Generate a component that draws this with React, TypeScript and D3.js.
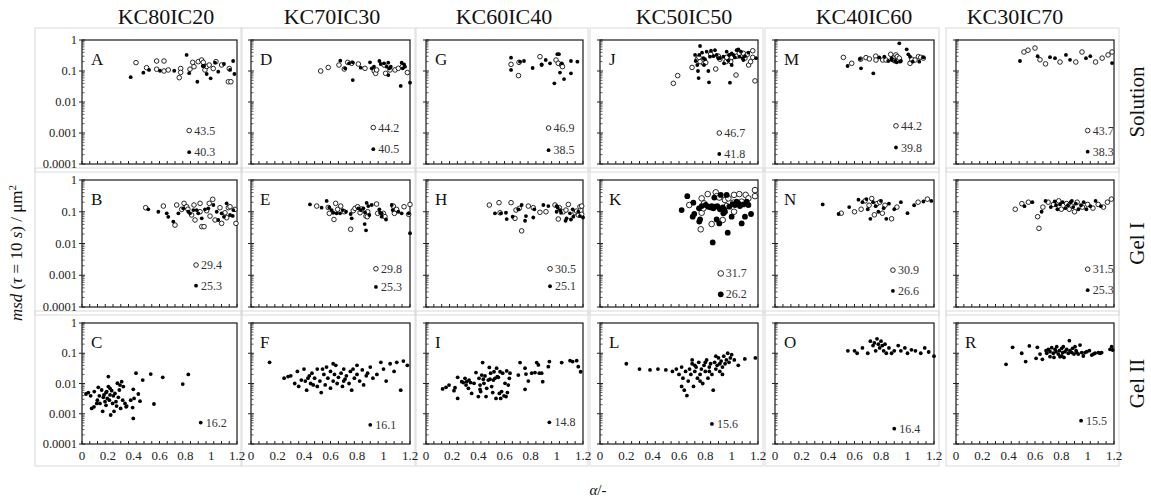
import React from "react";
import * as d3 from "d3";

type P = [number, number];
type Note = { x: number; y: number; label: string; open: boolean };

const columnTitles = ["KC80IC20", "KC70IC30", "KC60IC40", "KC50IC50", "KC40IC60", "KC30IC70"];
const rowLabels = ["Solution", "Gel I", "Gel II"];
const panelLetters = [
  ["A", "B", "C"],
  ["D", "E", "F"],
  ["G", "H", "I"],
  ["J", "K", "L"],
  ["M", "N", "O"],
  ["", "", "R"],
];
const yTickValues = [1, 0.1, 0.01, 0.001, 0.0001];
const yTickLabels = ["1", "0.1", "0.01", "0.001", "0.0001"];
const xTickValues = [0, 0.2, 0.4, 0.6, 0.8, 1, 1.2];
const xTickLabels = ["0", "0.2", "0.4", "0.6", "0.8", "1", "1.2"];

// ---- Solution row ----
const A_open: P[] = [[0.418,0.186],[0.5,0.128],[0.578,0.21],[0.578,0.114],[0.635,0.21],[0.635,0.1],[0.668,0.108],[0.753,0.061],[0.764,0.12],[0.764,0.09],[0.836,0.114],[0.857,0.19],[0.867,0.138],[0.9,0.2],[0.926,0.226],[0.939,0.19],[0.952,0.108],[0.965,0.14],[0.985,0.156],[1.016,0.12],[1.037,0.2],[1.081,0.156],[1.14,0.12],[1.133,0.045],[1.153,0.045]];
const A_filled: P[] = [[0.377,0.063],[0.475,0.088],[0.519,0.108],[0.604,0.102],[0.714,0.102],[0.81,0.33],[0.83,0.085],[0.893,0.045],[0.935,0.145],[0.945,0.145],[0.965,0.08],[0.996,0.058],[1.03,0.186],[1.055,0.095],[1.099,0.168],[1.146,0.108],[1.17,0.21],[1.18,0.08]];
const A_notes: Note[] = [{x:0.83,y:0.0012,label:"43.5",open:true},{x:0.83,y:0.00024,label:"40.3",open:false}];

const D_open: P[] = [[0.526,0.1],[0.583,0.13],[0.664,0.156],[0.704,0.116],[0.73,0.19],[0.76,0.177],[0.81,0.168],[0.86,0.122],[0.93,0.1],[0.941,0.084],[0.948,0.108],[1.004,0.156],[1.016,0.084],[1.049,0.108],[1.087,0.108],[1.112,0.122],[1.18,0.089],[1.142,0.138]];
const D_filled: P[] = [[0.674,0.215],[0.711,0.122],[0.74,0.177],[0.768,0.19],[0.768,0.051],[0.828,0.128],[0.898,0.19],[0.911,0.122],[0.928,0.138],[0.969,0.21],[0.979,0.168],[1.004,0.177],[1.024,0.138],[1.036,0.186],[1.044,0.122],[1.055,0.138],[1.137,0.186],[1.155,0.164],[1.162,0.138],[1.13,0.033],[1.2,0.042],[1.036,0.074],[1.145,0.122]];
const D_notes: Note[] = [{x:0.923,y:0.0015,label:"44.2",open:true},{x:0.923,y:0.0003,label:"40.5",open:false}];

const G_open: P[] = [[0.65,0.164],[0.707,0.071],[0.711,0.19],[0.871,0.29],[0.994,0.226],[1.011,0.177],[1.037,0.156],[1.043,0.138]];
const G_filled: P[] = [[0.65,0.27],[0.65,0.108],[0.718,0.2],[0.749,0.21],[0.815,0.125],[0.884,0.164],[0.915,0.226],[0.948,0.177],[0.981,0.04],[1.004,0.35],[1.016,0.35],[1.024,0.089],[1.037,0.177],[1.055,0.055],[1.108,0.21],[1.108,0.084],[1.157,0.2],[0.884,0.156]];
const G_notes: Note[] = [{x:0.937,y:0.00145,label:"46.9",open:true},{x:0.937,y:0.00028,label:"38.5",open:false}];

const J_open: P[] = [[0.557,0.04],[0.59,0.071],[0.699,0.13],[0.739,0.24],[0.752,0.275],[0.785,0.177],[0.803,0.186],[0.841,0.35],[0.879,0.116],[0.899,0.3],[0.911,0.24],[0.957,0.2],[0.975,0.24],[0.993,0.2],[1.0,0.275],[1.033,0.074],[1.038,0.3],[1.058,0.37],[1.089,0.37],[1.119,0.345],[1.129,0.156],[1.144,0.2],[1.16,0.45],[1.16,0.275],[1.177,0.048],[1.101,0.26],[0.962,0.275],[0.76,0.2]];
const J_filled: P[] = [[0.722,0.33],[0.727,0.21],[0.739,0.156],[0.744,0.1],[0.749,0.059],[0.754,0.33],[0.76,0.64],[0.775,0.39],[0.785,0.26],[0.79,0.156],[0.797,0.24],[0.81,0.42],[0.823,0.1],[0.828,0.043],[0.835,0.29],[0.843,0.45],[0.861,0.3],[0.873,0.47],[0.886,0.33],[0.899,0.26],[0.911,0.26],[0.937,0.29],[0.962,0.42],[0.975,0.215],[0.98,0.33],[0.987,0.042],[1.0,0.37],[1.013,0.33],[1.025,0.275],[1.038,0.47],[1.051,0.5],[1.058,0.29],[1.071,0.42],[1.083,0.26],[1.089,0.226],[1.101,0.3],[1.127,0.39],[1.185,0.26],[0.942,0.177],[1.0,0.156]];
const J_notes: Note[] = [{x:0.906,y:0.001,label:"46.7",open:true},{x:0.906,y:0.00021,label:"41.8",open:false}];

const M_open: P[] = [[0.516,0.275],[0.579,0.177],[0.646,0.24],[0.687,0.27],[0.712,0.245],[0.76,0.3],[0.762,0.226],[0.813,0.226],[0.838,0.226],[0.873,0.345],[0.893,0.26],[0.901,0.215],[0.913,0.33],[0.923,0.29],[1.019,0.177],[1.032,0.24],[1.057,0.226],[1.082,0.29],[1.1,0.275],[1.12,0.26],[0.938,0.26]];
const M_filled: P[] = [[0.548,0.145],[0.649,0.122],[0.742,0.084],[0.642,0.245],[0.787,0.275],[0.825,0.29],[0.855,0.21],[0.88,0.226],[0.906,0.21],[0.918,0.19],[0.938,0.78],[0.943,0.2],[0.951,0.21],[0.994,0.5],[1.006,0.345],[1.019,0.29],[1.039,0.2],[1.089,0.2],[1.12,0.275],[0.88,0.26]];
const M_notes: Note[] = [{x:0.913,y:0.0017,label:"44.2",open:true},{x:0.913,y:0.00034,label:"39.8",open:false}];

const P_open: P[] = [[0.516,0.41],[0.547,0.47],[0.6,0.55],[0.638,0.23],[0.68,0.17],[0.79,0.195],[0.91,0.195],[0.957,0.41],[1.06,0.195],[1.11,0.26],[1.155,0.33],[1.185,0.41]];
const P_filled: P[] = [[0.486,0.21],[0.62,0.3],[0.714,0.28],[0.752,0.26],[0.835,0.33],[0.866,0.23],[0.987,0.26],[1.02,0.3],[1.185,0.18]];
const P_notes: Note[] = [{x:1.0,y:0.0012,label:"43.7",open:true},{x:1.0,y:0.00025,label:"38.3",open:false}];

// ---- Gel I row ----
const B_open: P[] = [[0.493,0.134],[0.63,0.151],[0.72,0.038],[0.733,0.163],[0.772,0.119],[0.79,0.184],[0.81,0.144],[0.849,0.079],[0.867,0.163],[0.875,0.055],[0.914,0.184],[0.927,0.034],[0.945,0.034],[0.965,0.108],[0.985,0.184],[0.991,0.073],[1.012,0.246],[1.03,0.055],[1.068,0.134],[1.081,0.043],[1.107,0.093],[1.133,0.134],[1.146,0.144],[1.184,0.119],[1.192,0.043],[1.12,0.065],[0.914,0.1],[0.82,0.12]];
const B_filled: P[] = [[0.513,0.119],[0.591,0.1],[0.656,0.089],[0.668,0.069],[0.707,0.049],[0.746,0.089],[0.823,0.1],[0.836,0.089],[0.888,0.113],[0.9,0.089],[0.952,0.119],[0.978,0.128],[1.017,0.163],[1.043,0.1],[1.055,0.055],[1.081,0.089],[1.099,0.069],[1.12,0.184],[1.146,0.079],[1.167,0.074],[1.171,0.113],[0.927,0.062],[0.862,0.113],[0.784,0.128]];
const B_notes: Note[] = [{x:0.883,y:0.0021,label:"29.4",open:true},{x:0.883,y:0.00047,label:"25.3",open:false}];

const E_open: P[] = [[0.496,0.151],[0.583,0.137],[0.591,0.089],[0.626,0.057],[0.639,0.184],[0.654,0.119],[0.677,0.151],[0.704,0.1],[0.752,0.028],[0.772,0.108],[0.785,0.128],[0.805,0.144],[0.823,0.093],[0.868,0.073],[0.881,0.1],[0.948,0.175],[0.956,0.089],[0.999,0.089],[1.011,0.07],[1.074,0.151],[1.082,0.089],[1.099,0.119],[1.155,0.144],[1.2,0.17],[1.19,0.083],[0.835,0.122],[0.878,0.07]];
const E_filled: P[] = [[0.445,0.17],[0.533,0.134],[0.571,0.22],[0.591,0.137],[0.609,0.113],[0.621,0.093],[0.646,0.089],[0.672,0.089],[0.692,0.113],[0.717,0.1],[0.752,0.085],[0.76,0.062],[0.81,0.128],[0.828,0.113],[0.848,0.128],[0.858,0.041],[0.868,0.026],[0.873,0.19],[0.885,0.151],[0.893,0.079],[0.911,0.163],[0.969,0.119],[0.974,0.093],[0.986,0.07],[1.019,0.057],[1.062,0.163],[1.069,0.113],[1.112,0.1],[1.137,0.089],[1.2,0.021],[1.19,0.089],[0.86,0.096],[0.986,0.089]];
const E_notes: Note[] = [{x:0.943,y:0.0016,label:"29.8",open:true},{x:0.943,y:0.00043,label:"25.3",open:false}];

const H_open: P[] = [[0.484,0.163],[0.558,0.193],[0.566,0.093],[0.65,0.193],[0.68,0.062],[0.688,0.113],[0.713,0.128],[0.731,0.025],[0.782,0.151],[0.82,0.134],[0.871,0.096],[0.917,0.1],[0.986,0.163],[1.011,0.059],[1.019,0.134],[1.049,0.1],[1.07,0.113],[1.088,0.17],[1.139,0.093],[1.151,0.105],[1.164,0.079],[1.177,0.144],[1.19,0.151],[1.19,0.083]];
const H_filled: P[] = [[0.527,0.089],[0.573,0.089],[0.611,0.093],[0.617,0.059],[0.662,0.07],[0.706,0.119],[0.731,0.163],[0.757,0.052],[0.764,0.073],[0.82,0.066],[0.828,0.119],[0.897,0.163],[0.935,0.151],[0.998,0.151],[1.006,0.137],[1.024,0.113],[1.032,0.093],[1.067,0.052],[1.075,0.062],[1.1,0.089],[1.108,0.057],[1.121,0.119],[1.126,0.07],[1.164,0.1],[1.2,0.066],[1.177,0.073],[0.998,0.1]];
const H_notes: Note[] = [{x:0.948,y:0.0016,label:"30.5",open:true},{x:0.948,y:0.00045,label:"25.1",open:false}];

const K_open: P[] = [[0.678,0.163],[0.772,0.264],[0.818,0.36],[0.879,0.41],[0.886,0.31],[0.906,0.28],[0.772,0.093],[0.79,0.184],[0.765,0.028],[0.848,0.041],[0.932,0.055],[0.949,0.234],[0.975,0.264],[1.013,0.193],[1.018,0.34],[1.058,0.36],[1.076,0.208],[1.106,0.34],[1.127,0.264],[1.177,0.48],[1.177,0.31],[1.018,0.1],[0.962,0.151],[0.785,0.128]];
const K_filled: P[] = [[0.62,0.113],[0.663,0.31],[0.709,0.193],[0.704,0.07],[0.716,0.085],[0.752,0.128],[0.754,0.049],[0.76,0.057],[0.772,0.151],[0.803,0.163],[0.823,0.144],[0.841,0.137],[0.856,0.0108],[0.861,0.128],[0.868,0.28],[0.873,0.144],[0.886,0.057],[0.891,0.151],[0.906,0.043],[0.917,0.34],[0.932,0.137],[0.937,0.089],[0.949,0.1],[0.962,0.34],[0.97,0.022],[0.982,0.144],[1.0,0.07],[1.008,0.175],[1.025,0.163],[1.038,0.208],[1.051,0.184],[1.063,0.151],[1.076,0.043],[1.089,0.17],[1.101,0.07],[1.114,0.208],[1.127,0.163],[1.147,0.085],[0.911,0.119],[0.942,0.119],[0.848,0.151]];
const K_notes: Note[] = [{x:0.917,y:0.00114,label:"31.7",open:true},{x:0.917,y:0.00025,label:"26.2",open:false}];

const N_open: P[] = [[0.5,0.09],[0.6,0.1],[0.65,0.12],[0.68,0.22],[0.71,0.16],[0.73,0.26],[0.75,0.08],[0.77,0.18],[0.79,0.2],[0.81,0.09],[0.83,0.16],[0.88,0.06],[0.92,0.14],[1.08,0.2],[1.15,0.25]];
const N_filled: P[] = [[0.36,0.17],[0.48,0.085],[0.56,0.14],[0.63,0.24],[0.66,0.2],[0.7,0.12],[0.72,0.06],[0.74,0.2],[0.76,0.15],[0.78,0.1],[0.8,0.22],[0.82,0.13],[0.84,0.06],[0.86,0.18],[0.9,0.12],[0.95,0.2],[1.0,0.09],[1.05,0.16],[1.12,0.21],[1.18,0.22],[0.69,0.25]];
const N_notes: Note[] = [{x:0.89,y:0.00145,label:"30.9",open:true},{x:0.89,y:0.00032,label:"26.6",open:false}];

const Q_open: P[] = [[0.45,0.12],[0.5,0.18],[0.55,0.2],[0.62,0.07],[0.63,0.03],[0.66,0.14],[0.7,0.2],[0.74,0.17],[0.78,0.22],[0.8,0.12],[0.84,0.18],[0.88,0.15],[0.92,0.2],[0.96,0.14],[1.0,0.17],[1.04,0.13],[1.08,0.17],[1.12,0.14],[1.15,0.2],[1.18,0.25],[0.86,0.12],[0.9,0.1]];
const Q_filled: P[] = [[0.52,0.15],[0.58,0.2],[0.65,0.1],[0.68,0.22],[0.72,0.14],[0.75,0.21],[0.77,0.12],[0.79,0.17],[0.81,0.2],[0.83,0.13],[0.85,0.16],[0.87,0.2],[0.89,0.14],[0.91,0.18],[0.93,0.12],[0.95,0.16],[0.97,0.2],[0.99,0.12],[1.02,0.15],[1.06,0.22],[1.1,0.15],[0.88,0.22],[0.76,0.16]];
const Q_notes: Note[] = [{x:1.0,y:0.00155,label:"31.5",open:true},{x:1.0,y:0.00034,label:"25.3",open:false}];

// ---- Gel II row ----
const C_filled: P[] = [[0.031,0.0045],[0.049,0.005],[0.067,0.0039],[0.095,0.0054],[0.075,0.0015],[0.093,0.0017],[0.119,0.0028],[0.126,0.0075],[0.134,0.0039],[0.139,0.0022],[0.152,0.0061],[0.16,0.0012],[0.17,0.0042],[0.178,0.0025],[0.186,0.0019],[0.191,0.0054],[0.196,0.0032],[0.204,0.017],[0.204,0.0079],[0.212,0.0028],[0.217,0.0042],[0.222,0.00091],[0.23,0.0058],[0.237,0.0022],[0.243,0.0039],[0.248,0.0012],[0.255,0.0047],[0.263,0.0025],[0.268,0.0018],[0.274,0.0102],[0.281,0.0035],[0.289,0.0061],[0.294,0.0089],[0.299,0.0015],[0.307,0.0115],[0.315,0.0028],[0.32,0.0079],[0.333,0.0022],[0.341,0.0017],[0.346,0.0018],[0.377,0.0028],[0.392,0.0016],[0.397,0.0064],[0.397,0.0007],[0.403,0.0032],[0.418,0.022],[0.436,0.0045],[0.449,0.0026],[0.47,0.013],[0.532,0.0205],[0.557,0.0021],[0.625,0.016],[0.78,0.0096],[0.823,0.02],[0.165,0.0035],[0.186,0.005],[0.217,0.0069],[0.114,0.0022]];
const C_notes: Note[] = [{x:0.919,y:0.00051,label:"16.2",open:false}];

const F_filled: P[] = [[0.14,0.05],[0.25,0.015],[0.28,0.017],[0.3,0.018],[0.33,0.01],[0.35,0.025],[0.36,0.008],[0.38,0.013],[0.4,0.03],[0.41,0.012],[0.42,0.006],[0.44,0.018],[0.45,0.01],[0.46,0.022],[0.48,0.015],[0.5,0.008],[0.5,0.03],[0.52,0.012],[0.53,0.005],[0.55,0.02],[0.56,0.009],[0.57,0.035],[0.58,0.015],[0.6,0.025],[0.6,0.007],[0.62,0.012],[0.63,0.02],[0.64,0.04],[0.65,0.01],[0.66,0.016],[0.68,0.022],[0.69,0.008],[0.7,0.03],[0.71,0.014],[0.72,0.018],[0.74,0.01],[0.75,0.025],[0.76,0.006],[0.78,0.015],[0.8,0.02],[0.8,0.04],[0.82,0.012],[0.84,0.028],[0.85,0.009],[0.87,0.018],[0.9,0.035],[0.92,0.015],[0.95,0.02],[0.98,0.05],[1.0,0.03],[1.02,0.012],[1.05,0.045],[1.08,0.025],[1.1,0.05],[1.13,0.006],[1.15,0.055],[1.18,0.04],[0.54,0.03],[0.62,0.045],[0.7,0.012],[0.47,0.009],[0.43,0.015],[0.77,0.03],[0.88,0.022]];
const F_notes: Note[] = [{x:0.9,y:0.00043,label:"16.1",open:false}];

const I_filled: P[] = [[0.127,0.0066],[0.153,0.0075],[0.176,0.0089],[0.214,0.0058],[0.222,0.0073],[0.242,0.0032],[0.242,0.016],[0.273,0.0115],[0.285,0.0107],[0.298,0.0148],[0.306,0.0089],[0.311,0.0115],[0.324,0.0069],[0.329,0.013],[0.341,0.0107],[0.349,0.0047],[0.367,0.0101],[0.382,0.023],[0.4,0.0037],[0.405,0.0148],[0.413,0.0089],[0.413,0.0064],[0.418,0.0054],[0.426,0.019],[0.433,0.049],[0.438,0.0138],[0.443,0.0101],[0.451,0.0178],[0.459,0.0037],[0.464,0.0069],[0.476,0.013],[0.484,0.034],[0.489,0.0138],[0.494,0.022],[0.502,0.0079],[0.51,0.005],[0.515,0.013],[0.52,0.0245],[0.527,0.0148],[0.535,0.0032],[0.54,0.032],[0.545,0.017],[0.553,0.016],[0.561,0.0047],[0.566,0.0245],[0.571,0.0032],[0.578,0.0054],[0.586,0.022],[0.596,0.0039],[0.604,0.0101],[0.612,0.0037],[0.617,0.026],[0.622,0.005],[0.629,0.0089],[0.637,0.0148],[0.642,0.022],[0.706,0.019],[0.719,0.049],[0.757,0.032],[0.764,0.0205],[0.757,0.0064],[0.782,0.012],[0.808,0.022],[0.833,0.023],[0.846,0.049],[0.859,0.041],[0.866,0.022],[0.884,0.022],[0.892,0.0115],[0.935,0.036],[0.943,0.053],[1.037,0.049],[1.101,0.057],[1.121,0.053],[1.152,0.057],[1.164,0.036],[1.182,0.0245]];
const I_notes: Note[] = [{x:0.943,y:0.00052,label:"14.8",open:false}];

const L_filled: P[] = [[0.2,0.045],[0.3,0.03],[0.38,0.028],[0.44,0.03],[0.5,0.028],[0.55,0.025],[0.58,0.03],[0.6,0.02],[0.62,0.035],[0.63,0.015],[0.64,0.006],[0.65,0.025],[0.66,0.004],[0.67,0.012],[0.68,0.03],[0.69,0.02],[0.7,0.045],[0.71,0.008],[0.72,0.025],[0.73,0.035],[0.74,0.015],[0.75,0.05],[0.76,0.02],[0.77,0.03],[0.78,0.01],[0.79,0.04],[0.8,0.025],[0.81,0.06],[0.82,0.015],[0.83,0.035],[0.84,0.045],[0.85,0.02],[0.86,0.006],[0.87,0.05],[0.88,0.03],[0.89,0.04],[0.9,0.07],[0.91,0.025],[0.92,0.055],[0.93,0.035],[0.94,0.08],[0.95,0.045],[0.96,0.06],[0.97,0.1],[0.98,0.05],[0.99,0.07],[1.0,0.09],[1.02,0.06],[1.05,0.04],[1.1,0.065],[1.18,0.07],[0.7,0.06],[0.76,0.012],[0.8,0.05],[0.88,0.08],[0.93,0.02],[0.62,0.008],[0.83,0.025],[0.72,0.04],[0.91,0.045]];
const L_notes: Note[] = [{x:0.85,y:0.00046,label:"15.6",open:false}];

const O_filled: P[] = [[0.55,0.12],[0.6,0.12],[0.62,0.1],[0.66,0.15],[0.7,0.1],[0.72,0.25],[0.74,0.18],[0.75,0.22],[0.76,0.12],[0.77,0.3],[0.78,0.2],[0.79,0.15],[0.8,0.25],[0.81,0.18],[0.82,0.12],[0.83,0.2],[0.84,0.1],[0.86,0.15],[0.9,0.12],[0.93,0.18],[0.95,0.12],[0.98,0.15],[1.0,0.1],[1.03,0.13],[1.06,0.12],[1.1,0.1],[1.13,0.15],[1.16,0.11],[1.2,0.08],[0.88,0.1]];
const O_notes: Note[] = [{x:0.9,y:0.00032,label:"16.4",open:false}];

const R_filled: P[] = [[0.38,0.043],[0.43,0.157],[0.499,0.1],[0.529,0.053],[0.557,0.174],[0.608,0.068],[0.618,0.157],[0.638,0.094],[0.656,0.063],[0.684,0.122],[0.689,0.1],[0.701,0.135],[0.714,0.113],[0.727,0.153],[0.739,0.1],[0.744,0.073],[0.752,0.135],[0.76,0.113],[0.765,0.165],[0.777,0.094],[0.785,0.122],[0.79,0.077],[0.803,0.146],[0.81,0.105],[0.815,0.165],[0.82,0.073],[0.828,0.113],[0.841,0.135],[0.853,0.1],[0.861,0.26],[0.866,0.122],[0.879,0.105],[0.886,0.146],[0.896,0.094],[0.904,0.165],[0.912,0.122],[0.917,0.105],[0.929,0.094],[0.942,0.187],[0.955,0.105],[0.967,0.081],[0.98,0.105],[0.993,0.113],[1.013,0.122],[1.031,0.087],[1.043,0.094],[1.056,0.1],[1.081,0.105],[1.094,0.1],[1.106,0.105],[1.17,0.135],[1.182,0.165],[1.19,0.128],[0.714,0.077],[0.803,0.081]];
const R_notes: Note[] = [{x:0.95,y:0.00059,label:"15.5",open:false}];

// ---- layout (not data) ----
const WIDTH = 1151;
const HEIGHT = 500;
const colLeft = [82, 251, 426, 600, 775, 956];
const colWidth = [155, 159, 157, 158, 159, 158];
const rowTop = [40, 180, 323];
const rowBottom = [164, 307, 444];
const titleX = [166, 332, 504, 684, 864, 1015];
const FONT = "Liberation Serif, Times New Roman, serif";

type Spec = { open: P[]; filled: P[]; notes: Note[]; big?: boolean };
const specs: Spec[][] = [
  [{ open: A_open, filled: A_filled, notes: A_notes }, { open: B_open, filled: B_filled, notes: B_notes }, { open: [], filled: C_filled, notes: C_notes }],
  [{ open: D_open, filled: D_filled, notes: D_notes }, { open: E_open, filled: E_filled, notes: E_notes }, { open: [], filled: F_filled, notes: F_notes }],
  [{ open: G_open, filled: G_filled, notes: G_notes }, { open: H_open, filled: H_filled, notes: H_notes }, { open: [], filled: I_filled, notes: I_notes }],
  [{ open: J_open, filled: J_filled, notes: J_notes }, { open: K_open, filled: K_filled, notes: K_notes, big: true }, { open: [], filled: L_filled, notes: L_notes }],
  [{ open: M_open, filled: M_filled, notes: M_notes }, { open: N_open, filled: N_filled, notes: N_notes }, { open: [], filled: O_filled, notes: O_notes }],
  [{ open: P_open, filled: P_filled, notes: P_notes }, { open: Q_open, filled: Q_filled, notes: Q_notes }, { open: [], filled: R_filled, notes: R_notes }],
];

const minorTicks: number[] = [];
for (let e = -4; e < 0; e++) for (let k = 2; k <= 9; k++) minorTicks.push(k * Math.pow(10, e));
const xSmallTicks = d3.range(21).map((i) => (i * 1.2) / 20);

function makeScales(col: number, row: number) {
  const L = colLeft[col];
  const R = L + colWidth[col];
  const T = rowTop[row];
  const B = rowBottom[row];
  const x = d3.scaleLinear().domain([0, 1.2]).range([L, R]);
  const y = d3.scaleLog().domain([1e-4, 1]).range([B, T]);
  return { L, R, T, B, x, y };
}

function Panel({ col, row, spec }: { col: number; row: number; spec: Spec }) {
  const { L, R, T, B, x, y } = makeScales(col, row);
  const rF = spec.big ? 2.9 : 1.9;
  const rO = spec.big ? 2.8 : 2.3;
  const letter = panelLetters[col][row];
  return (
    <g>
      <rect x={L} y={T} width={R - L} height={B - T} fill="#fff" stroke="#1a1a1a" strokeWidth={1.2} />
      {minorTicks.map((v, i) => (
        <line key={"m" + i} x1={L} x2={L + 2.5} y1={y(v)} y2={y(v)} stroke="#333" strokeWidth={0.8} />
      ))}
      {yTickValues.map((v, i) => (
        <line key={"M" + i} x1={L - 3} x2={L + 3} y1={y(v)} y2={y(v)} stroke="#222" strokeWidth={1} />
      ))}
      {xSmallTicks.map((v, i) => (
        <line key={"x" + i} x1={x(v)} x2={x(v)} y1={B} y2={B - 3} stroke="#222" strokeWidth={1} />
      ))}
      {letter !== "" ? (
        <text x={L + 9} y={T + 25} fontSize={17} fontFamily={FONT} fill="#111">
          {letter}
        </text>
      ) : null}
      {spec.open.map((d, i) => (
        <circle key={"o" + i} cx={x(d[0])} cy={y(d[1])} r={rO} fill="#fff" stroke="#111" strokeWidth={0.9} />
      ))}
      {spec.filled.map((d, i) => (
        <circle key={"f" + i} cx={x(d[0])} cy={y(d[1])} r={rF} fill="#000" />
      ))}
      {spec.notes.map((n, i) => (
        <g key={"n" + i}>
          {n.open ? (
            <circle cx={x(n.x)} cy={y(n.y)} r={rO} fill="#fff" stroke="#111" strokeWidth={0.9} />
          ) : (
            <circle cx={x(n.x)} cy={y(n.y)} r={rF} fill="#000" />
          )}
          <text x={x(n.x) + 5} y={y(n.y) + 4} fontSize={12} fontFamily={FONT} fill="#333">
            {n.label}
          </text>
        </g>
      ))}
    </g>
  );
}

function ChartBox({ col, row }: { col: number; row: number }) {
  const { L, R, T, B } = makeScales(col, row);
  const bx0 = col === 0 ? 35 : L - 10;
  const bx1 = R + 5;
  const by0 = T - 12;
  const by1 = row === 2 ? B + 22 : B + 8;
  return <rect x={bx0} y={by0} width={bx1 - bx0} height={by1 - by0} fill="none" stroke="#dadada" strokeWidth={1} />;
}

function YLabels({ row }: { row: number }) {
  const { L, y } = makeScales(0, row);
  return (
    <g>
      {yTickValues.map((v, i) => (
        <text key={i} x={L - 5} y={y(v) + 4} textAnchor="end" fontSize={12.5} fontFamily={FONT} fill="#222">
          {yTickLabels[i]}
        </text>
      ))}
    </g>
  );
}

function XLabels({ col }: { col: number }) {
  const { B, x } = makeScales(col, 2);
  return (
    <g>
      {xTickValues.map((v, i) => (
        <text key={i} x={x(v)} y={B + 16} textAnchor="middle" fontSize={13} fontFamily={FONT} fill="#222">
          {xTickLabels[i]}
        </text>
      ))}
    </g>
  );
}

export default function App() {
  const cells: { c: number; r: number }[] = [];
  for (let c = 0; c < 6; c++) for (let r = 0; r < 3; r++) cells.push({ c, r });
  return (
    <svg width={WIDTH} height={HEIGHT} style={{ position: "absolute", left: 0, top: 0, background: "#fff" }}>
      <rect x={0} y={0} width={WIDTH} height={HEIGHT} fill="#fff" />
      {cells.map(({ c, r }) => (
        <ChartBox key={"b" + c + r} col={c} row={r} />
      ))}
      {columnTitles.map((t, i) => (
        <text key={t} x={titleX[i]} y={24} textAnchor="middle" fontSize={22} fontFamily={FONT} fill="#111">
          {t}
        </text>
      ))}
      {cells.map(({ c, r }) => (
        <Panel key={"p" + c + r} col={c} row={r} spec={specs[c][r]} />
      ))}
      {[0, 1, 2].map((r) => (
        <YLabels key={"yl" + r} row={r} />
      ))}
      {[0, 1, 2, 3, 4, 5].map((c) => (
        <XLabels key={"xl" + c} col={c} />
      ))}
      {rowLabels.map((t, r) => (
        <text
          key={t}
          transform={`translate(1144,${(rowTop[r] + rowBottom[r]) / 2}) rotate(-90)`}
          textAnchor="middle"
          fontSize={21}
          fontFamily={FONT}
          fill="#111"
        >
          {t}
        </text>
      ))}
      <text transform="translate(22,253) rotate(-90)" textAnchor="middle" fontSize={17} fontFamily={FONT} fill="#111">
        <tspan fontStyle="italic">msd</tspan>
        <tspan> (</tspan>
        <tspan fontStyle="italic">τ</tspan>
        <tspan> = 10 </tspan>
        <tspan fontStyle="italic">s</tspan>
        <tspan>) / μm</tspan>
        <tspan dy={-6} fontSize={11}>2</tspan>
      </text>
      <text x={598} y={495} textAnchor="middle" fontSize={15} fontFamily={FONT} fill="#111">
        <tspan fontStyle="italic">α</tspan>
        <tspan>/-</tspan>
      </text>
    </svg>
  );
}
